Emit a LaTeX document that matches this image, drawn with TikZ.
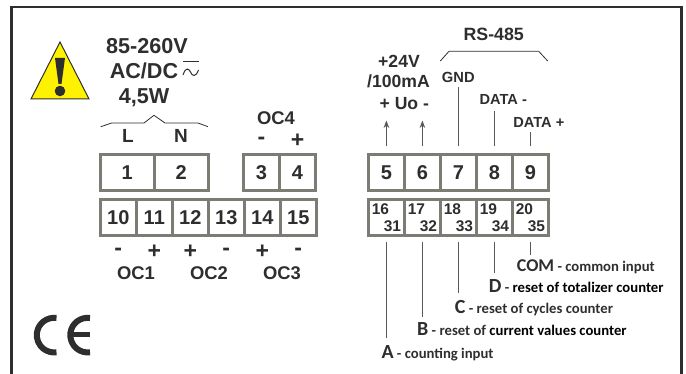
\documentclass[tikz,border=0pt]{standalone}
\usepackage{fontspec}
\setmainfont{Liberation Sans}
\newfontfamily\carlito{Carlito}
\usepackage{xcolor}
\usetikzlibrary{positioning,arrows.meta}
\definecolor{ink}{HTML}{2E2E2E}
\definecolor{boxgray}{HTML}{7C7C75}
\definecolor{warnyellow}{HTML}{FFF200}
\tikzset{
  term/.style={draw=boxgray, shape=rectangle, line width=3pt, outer sep=0pt, inner sep=0pt, minimum width=36pt, minimum height=36pt, text=ink, font=\bfseries\fontsize{20}{20}\selectfont},
  termtwo/.style={term, align=left, font=\bfseries\fontsize{15.5}{17}\selectfont},
  txt/.style={anchor=base, inner sep=0pt, text=ink, font=\bfseries\fontsize{#1}{#1}\selectfont},
  sgn/.style={inner sep=0pt, text=ink, font=\bfseries\fontsize{23}{23}\selectfont},
  desc/.style={anchor=base west, inner sep=0pt, text=ink, font=\carlito\bfseries\fontsize{14.7}{14.7}\selectfont},
  wire/.style={draw=ink!80, line width=1pt}
}
\newcommand{\bigletter}[1]{{\fontsize{20}{20}\selectfont #1}}
\begin{document}
\begin{tikzpicture}[x=1pt, y=-1pt, >=Stealth]
\useasboundingbox (0,0) rectangle (686,374);
\draw[ink, line width=2.5pt] (11.3,374) -- (11.3,7) -- (681.5,7) -- (681.5,374);
\draw[ink, fill=warnyellow, line width=1pt, line join=miter] (60,42) -- (89,99) -- (31,99) -- cycle;
\fill[ink] (55,58) -- (65,58) -- (61.5,84) -- (58.5,84) -- cycle;
\fill[ink] (60,91) circle (5.3);
\node[txt=21.6] (volt) at (147,53.3) {85-260V};
\node[txt=21.6] (acdc) at (144,78.7) {AC/DC};
\node[txt=21.6] (watt) at (144,104) {4,5W};
\draw[ink, line width=1pt] (182.5,62) -- (198.5,62);
\draw[ink, line width=1pt] (183,75) .. controls (186,66) and (189,69) .. (190.5,72) .. controls (192,76) and (195.5,78) .. (198.5,70);
\node[term, minimum width=54pt] (t1) at (127.3,172.3) {1};
\node[term, minimum width=54pt, right=0pt of t1] (t2) {2};
\node[term, minimum width=36pt] (t3) at (261.5,172.3) {3};
\node[term, right=0pt of t3] (t4) {4};
\node[term] (t5) at (386.4,172.3) {5};
\node[term, right=0pt of t5] (t6) {6};
\node[term, right=0pt of t6] (t7) {7};
\node[term, right=0pt of t7] (t8) {8};
\node[term, right=0pt of t8] (t9) {9};
\node[term] (b10) at (118.3,217.3) {10};
\node[term, right=0pt of b10] (b11) {11};
\node[term, right=0pt of b11] (b12) {12};
\node[term, right=0pt of b12] (b13) {13};
\node[term, right=0pt of b13] (b14) {14};
\node[term, right=0pt of b14] (b15) {15};
\node[termtwo] (b16) at (386.4,217.3) {16\\\hspace{12pt}31};
\node[termtwo, right=0pt of b16] (b17) {17\\\hspace{12pt}32};
\node[termtwo, right=0pt of b17] (b18) {18\\\hspace{12pt}33};
\node[termtwo, right=0pt of b18] (b19) {19\\\hspace{12pt}34};
\node[termtwo, right=0pt of b19] (b20) {20\\\hspace{12pt}35};
\node[txt=19] (lineL) at (128,143) {L};
\node[txt=19] (lineN) at (181,143) {N};
\draw[ink, line width=.8pt] (100.7,126.7) -- (111.7,123) -- (144,123) -- (154,115.3) -- (165,123) -- (198,123) -- (208,126.7);
\node[txt=18.4] (oc4) at (276,125) {OC4};
\node[sgn, above of=t3, node distance=31.5pt] (s3) {-};
\node[sgn, above of=t4, node distance=31.5pt] (s4) {+};
\node[sgn, below of=b10, node distance=34.5pt] (s10) {-};
\node[sgn, below of=b11, node distance=34.5pt] (s11) {+};
\node[sgn, below of=b12, node distance=34.5pt] (s12) {+};
\node[sgn, below of=b13, node distance=34.5pt] (s13) {-};
\node[sgn, below of=b14, node distance=34.5pt] (s14) {+};
\node[sgn, below of=b15, node distance=34.5pt] (s15) {-};
\node[txt=18.4] (oc1) at (136,279.5) {OC1};
\node[txt=18.4] (oc2) at (209,279.5) {OC2};
\node[txt=18.4] (oc3) at (282,279.5) {OC3};
\node[txt=17.8] (rs) at (493.7,40.7) {RS-485};
\draw[ink, line width=.8pt] (440.3,61) -- (449,51.3) -- (538.7,51.3) -- (547.7,61);
\node[txt=17.6] (v24) at (399,68) {+24V};
\node[txt=17.6] (ma) at (398.5,88) {/100mA};
\node[txt=17.6] (uo) at (404.3,110) {+ Uo -};
\node[txt=14.7] (gnd) at (458.3,82.3) {GND};
\node[txt=14.6] (dm) at (503.3,104.3) {DATA -};
\node[txt=14.6] (dp) at (538.8,127.3) {DATA +};
\coordinate (e5) at (0,120.5);
\coordinate (e7) at (0,87);
\coordinate (e8) at (0,111);
\coordinate (e9) at (0,132);
\draw[->, wire] ([yshift=8pt] t5.north) -- (t5.north |- e5);
\draw[->, wire] ([yshift=8pt] t6.north) -- (t6.north |- e5);
\draw[wire] ([yshift=8pt] t7.north) -- (t7.north |- e7);
\draw[wire] ([yshift=8pt] t8.north) -- (t8.north |- e8);
\draw[wire] ([yshift=8pt] t9.north) -- (t9.north |- e9);
\coordinate (e16) at (0,338);
\coordinate (e17) at (0,317);
\coordinate (e18) at (0,293);
\coordinate (e19) at (0,273);
\coordinate (e20) at (0,254.7);
\draw[wire] ([yshift=-7pt] b16.south) -- (b16.south |- e16);
\draw[wire] ([yshift=-7pt] b17.south) -- (b17.south |- e17);
\draw[wire] ([yshift=-7pt] b18.south) -- (b18.south |- e18);
\draw[wire] ([yshift=-7pt] b19.south) -- (b19.south |- e19);
\draw[wire] ([yshift=-7pt] b20.south) -- (b20.south |- e20);
\node[desc] (com) at (516.7,271.3) {{\fontsize{18}{18}\selectfont COM} - common input};
\node[desc] (dd) at (488.7,292.7) {\bigletter{D} - {\color{black}reset of totalizer counter}};
\node[desc] (dc) at (454.7,314) {\bigletter{C} - reset of cycles counter};
\node[desc] (db) at (417,335.7) {\bigletter{B} - reset of {\color{black}current values counter}};
\node[desc] (da) at (381.3,359) {\bigletter{A} - counting input};
\draw[ink, line width=6pt] (56.5,318) arc[start angle=-82, end angle=-278, radius=17.3];
\draw[ink, line width=6pt] (90,318) arc[start angle=-82, end angle=-278, radius=17.3];
\draw[ink, line width=5pt] (72,335) -- (90,335);
\end{tikzpicture}
\end{document}
